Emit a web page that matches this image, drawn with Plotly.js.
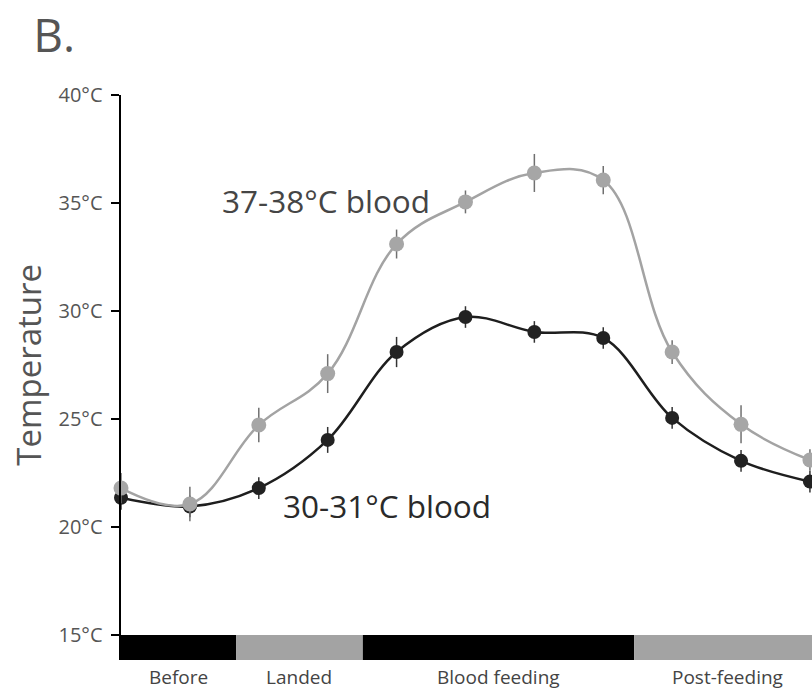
<!DOCTYPE html>
<html>
<head>
<meta charset="utf-8">
<script src="https://cdn.plot.ly/plotly-3.0.1.min.js"></script>
<style>html,body{margin:0;padding:0;background:#fff;}#chart{width:812px;height:690px;}</style>
</head>
<body>
<div id="chart"></div>
<script>
// time points (evenly spaced measurements)
const timePoints = [0, 1, 2, 3, 4, 5, 6, 7, 8, 9, 10];
// 37-38°C blood series
const hotBlood = [21.8, 21.06, 24.72, 27.1, 33.1, 35.05, 36.39, 36.06, 28.1, 24.75, 23.1];
const hotErr   = [0.7, 0.8, 0.8, 0.9, 0.67, 0.53, 0.88, 0.65, 0.55, 0.88, 0.5];
// 30-31°C blood series
const coolBlood = [21.35, 20.95, 21.8, 24.03, 28.1, 29.72, 29.03, 28.75, 25.05, 23.06, 22.1];
const coolErr   = [0.55, 0.5, 0.5, 0.6, 0.7, 0.5, 0.5, 0.5, 0.5, 0.5, 0.5];
// phases (bar under the axis)
const phaseNames = ['Before', 'Landed', 'Blood feeding', 'Post-feeding'];
const phaseStart = [0, 1.67, 3.51, 7.45];
const phaseEnd   = [1.67, 3.51, 7.45, 10.15];
const phaseColors = ['#000000', '#a3a3a3', '#000000', '#a3a3a3'];
// y ticks
const yTicks = [15, 20, 25, 30, 35, 40];
const yTickText = yTicks.map(v => v + '°C');

const FONT = 'Open Sans, sans-serif';

const traces = [
  {
    x: timePoints, y: coolBlood, type: 'scatter', mode: 'lines+markers',
    line: {shape: 'spline', smoothing: 1, color: '#1e1e1e', width: 2.5},
    marker: {size: 14, color: '#222222'},
    error_y: {type: 'data', array: coolErr, visible: true, width: 0, thickness: 1.5, color: '#333333'},
    cliponaxis: false, hoverinfo: 'skip'
  },
  {
    x: timePoints, y: hotBlood, type: 'scatter', mode: 'lines+markers',
    line: {shape: 'spline', smoothing: 1.1, color: '#a3a3a3', width: 2.5},
    marker: {size: 15, color: '#a6a6a6'},
    error_y: {type: 'data', array: hotErr, visible: true, width: 0, thickness: 1.5, color: '#707070'},
    cliponaxis: false, hoverinfo: 'skip'
  }
];

const shapes = phaseNames.map((n, i) => ({
  type: 'rect', xref: 'x', yref: 'y',
  x0: phaseStart[i], x1: phaseEnd[i], y0: 13.84, y1: 15,
  fillcolor: phaseColors[i], line: {width: 0}, layer: 'above'
}));

const annotations = phaseNames.map((n, i) => ({
  text: n, xref: 'x', yref: 'paper',
  x: (phaseStart[i] + phaseEnd[i]) / 2, y: 0, yanchor: 'top', yshift: -2,
  showarrow: false, font: {family: FONT, size: 19, color: '#444'}
}));
annotations.push({
  text: '37-38°C blood', xref: 'x', yref: 'y', x: 2.97, y: 35.1,
  showarrow: false, font: {family: FONT, size: 31.5, color: '#454545'}
});
annotations.push({
  text: '30-31°C blood', xref: 'x', yref: 'y', x: 3.86, y: 21.0,
  showarrow: false, font: {family: FONT, size: 31.5, color: '#2a2a2a'}
});
annotations.push({
  text: 'Temperature', xref: 'paper', yref: 'paper', x: -0.135, y: 0.522,
  xanchor: 'center', yanchor: 'middle', textangle: -90,
  showarrow: false, font: {family: FONT, size: 33, color: '#555'}
});

const layout = {
  width: 812, height: 690,
  margin: {l: 121, r: 0, t: 95, b: 30},
  paper_bgcolor: '#fff', plot_bgcolor: '#fff',
  showlegend: false,
  title: {text: 'B.', xref: 'container', yref: 'container', x: 0.041, xanchor: 'left', y: 0.948, yanchor: 'middle',
          font: {family: FONT, size: 46, color: '#555'}},
  xaxis: {range: [0, 10.03], showgrid: false, zeroline: false, showline: false, showticklabels: false, ticks: '', fixedrange: true},
  yaxis: {range: [13.84, 40], tickvals: yTicks, ticktext: yTickText, showgrid: false, zeroline: false,
          showline: true, linecolor: '#000', linewidth: 2.5, ticks: 'outside', ticklen: 8, tickwidth: 2, tickcolor: '#000',
          tickfont: {family: FONT, size: 20, color: '#555'}, ticklabelstandoff: 4},
  shapes: shapes,
  annotations: annotations
};

Plotly.newPlot('chart', traces, layout, {displayModeBar: false, staticPlot: true});
</script>
</body>
</html>
